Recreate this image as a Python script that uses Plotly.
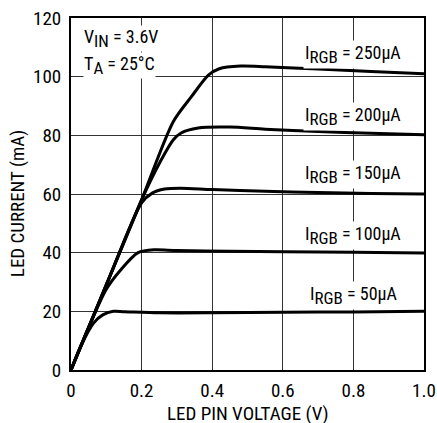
import plotly.graph_objects as go

# data
v250 = [0, 0.1, 0.2, 0.29, 0.34, 0.39, 0.42, 0.48, 0.55, 0.7, 0.85, 1.0]
i250 = [0, 29, 58, 84.7, 93, 100.6, 102.7, 103.6, 103.4, 102.6, 101.8, 101.0]

v200 = [0, 0.1, 0.2, 0.255, 0.29, 0.312, 0.36, 0.45, 0.55, 0.7, 0.85, 1.0]
i200 = [0, 29, 58, 71.5, 78.5, 80.8, 82.5, 82.8, 82.1, 81.3, 80.7, 80.2]

v150 = [0, 0.1, 0.2, 0.23, 0.265, 0.31, 0.4, 0.55, 0.7, 0.85, 1.0]
i150 = [0, 29, 57, 60.3, 61.7, 62.0, 61.5, 60.9, 60.5, 60.2, 60.0]

v100 = [0, 0.05, 0.1, 0.14, 0.19, 0.236, 0.3, 0.45, 0.6, 0.8, 1.0]
i100 = [0, 14.5, 27.5, 34, 40, 41, 40.7, 40.5, 40.3, 40.1, 39.9]

v50 = [0, 0.03, 0.064, 0.09, 0.12, 0.15, 0.25, 0.4, 0.6, 0.8, 1.0]
i50 = [0, 8.7, 16, 18.8, 20, 19.9, 19.5, 19.5, 19.7, 19.8, 20.0]

SUB = '<sub><span style="font-size:17px">{}</span></sub>'
labels = ["I" + SUB.format("RGB") + " = 250µA", "I" + SUB.format("RGB") + " = 200µA",
          "I" + SUB.format("RGB") + " = 150µA", "I" + SUB.format("RGB") + " = 100µA",
          "I" + SUB.format("RGB") + " = 50µA"]
label_x = [0.8, 0.8, 0.8, 0.8, 0.8]
label_y = [107.5, 86.5, 66.5, 46, 25.5]

cond_lines = ["V" + SUB.format("IN") + " = 3.6V", "T" + SUB.format("A") + " = 25°C"]
cond_x = [0.033, 0.033]
cond_y = [117.6, 108.4]

x_ticks = [0, 0.2, 0.4, 0.6, 0.8, 1.0]
x_ticktext = ["0", "0.2", "0.4", "0.6", "0.8", "1.0"]
y_ticks = [0, 20, 40, 60, 80, 100, 120]
x_title = "LED PIN VOLTAGE (V)"
y_title = "LED CURRENT (mA)"

FONT = "Liberation Sans Narrow, Roboto Condensed, Liberation Sans, Arial"

fig = go.Figure()
for xs, ys in [(v250, i250), (v200, i200), (v150, i150), (v100, i100), (v50, i50)]:
    fig.add_trace(go.Scatter(x=xs, y=ys, mode="lines",
                             line=dict(color="black", width=3, shape="spline", smoothing=0.8),
                             showlegend=False, hoverinfo="skip"))

anns = []
for t, x, y in zip(labels, label_x, label_y):
    anns.append(dict(x=x, y=y, xref="x", yref="y", text=t, showarrow=False,
                     xanchor="center", yanchor="middle", bgcolor="white",
                     font=dict(size=18, color="black", family=FONT), borderpad=1))
for t, x, y in zip(cond_lines, cond_x, cond_y):
    anns.append(dict(x=x, y=y, xref="x", yref="y", text=t, showarrow=False,
                     xanchor="left", yanchor="top", align="left",
                     bgcolor="white", font=dict(size=18, color="black", family=FONT), borderpad=0))
# axis titles placed as annotations for exact positioning
anns.append(dict(x=0.5, y=-0.124, xref="paper", yref="paper", text=x_title, showarrow=False,
                 xanchor="center", yanchor="middle", borderpad=0,
                 font=dict(size=19, color="black", family=FONT)))
anns.append(dict(x=-0.153, y=0.474, xref="paper", yref="paper", text=y_title, showarrow=False,
                 textangle=-90, xanchor="center", yanchor="middle",
                 font=dict(size=19, color="black", family=FONT)))

fig.update_layout(
    width=437, height=423,
    margin=dict(l=71, r=13, t=18, b=53),
    paper_bgcolor="white", plot_bgcolor="white",
    font=dict(family=FONT, size=19, color="black"),
    annotations=anns,
    xaxis=dict(range=[0, 1.0], tickvals=x_ticks, ticktext=x_ticktext, automargin=False,
               showgrid=True, gridcolor="#333", gridwidth=1,
               showline=True, linecolor="black", linewidth=2, mirror=True,
               ticks="", zeroline=False, ticklabelstandoff=2),
    yaxis=dict(range=[0, 120], tickvals=y_ticks, automargin=False,
               showgrid=True, gridcolor="#333", gridwidth=1,
               showline=True, linecolor="black", linewidth=2, mirror=True,
               ticks="", zeroline=False, ticklabelstandoff=4),
)
# remove the browser's default 8px page margin so the figure sits at the window's corner
fig.write_html("out.html", config={"displayModeBar": False},
               post_script="document.body.style.margin='0';document.body.style.overflow='hidden';")
